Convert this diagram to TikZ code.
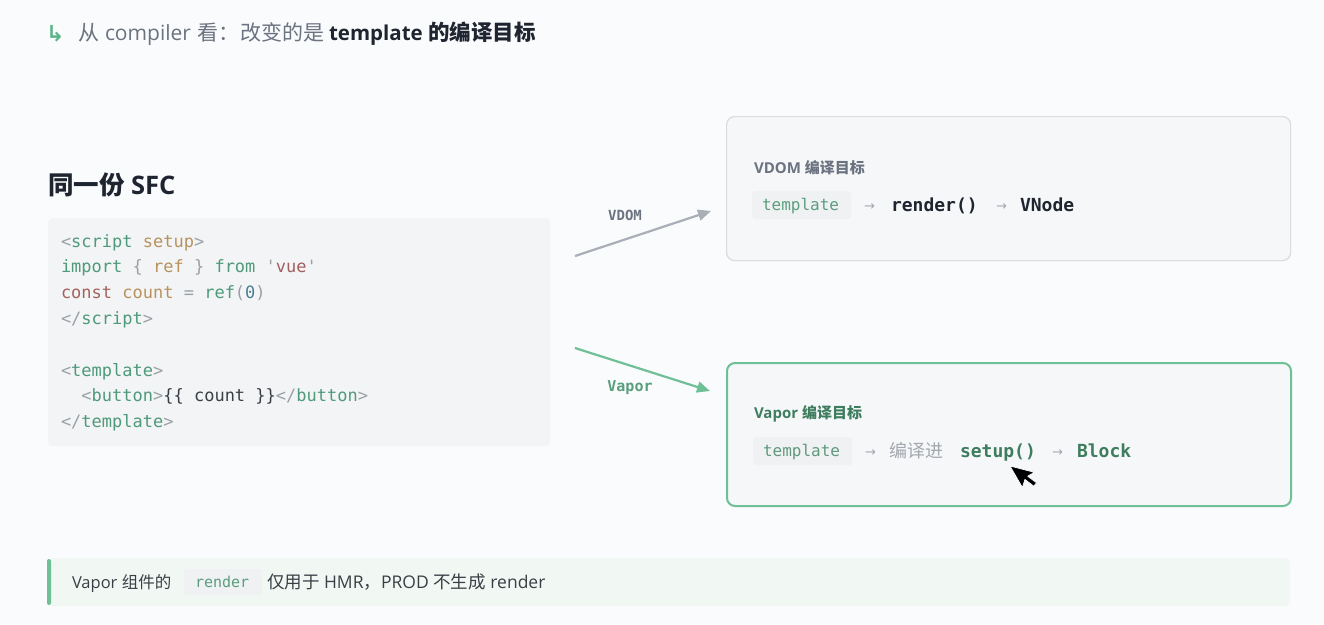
\documentclass[tikz,border=0pt]{standalone}
\usepackage{fontspec}
\setmainfont{Open Sans}
\newfontfamily\cjk{Noto Sans CJK SC}
\setmonofont{DejaVu Sans Mono}
\newfontfamily\dvs{DejaVu Sans}
\usetikzlibrary{arrows.meta}
\definecolor{bg}{HTML}{FAFBFC}
\definecolor{grn}{HTML}{5DB488}
\definecolor{grnline}{HTML}{6FBF97}
\definecolor{grndark}{HTML}{3E7D5E}
\definecolor{grntext}{HTML}{5A9E7E}
\definecolor{txtgray}{HTML}{6B7280}
\definecolor{txtlight}{HTML}{A3A8AE}
\definecolor{txtdark}{HTML}{1F2530}
\definecolor{codebg}{HTML}{F3F4F5}
\definecolor{chipbg}{HTML}{EFF1F2}
\definecolor{boxbg}{HTML}{F6F7F9}
\definecolor{boxline}{HTML}{D8DBDF}
\definecolor{arrgray}{HTML}{A9AFB6}
\definecolor{calloutbg}{HTML}{F1F8F4}
\definecolor{cpunct}{HTML}{9AA0A6}
\definecolor{ctag}{HTML}{4E9A7A}
\definecolor{cattr}{HTML}{B8925E}
\definecolor{cstr}{HTML}{A25F5F}
\definecolor{ckw}{HTML}{A3625C}
\definecolor{cnum}{HTML}{4B7E92}
\definecolor{cplain}{HTML}{3A3F45}
\newcommand{\cpn}[1]{\textcolor{cpunct}{#1}}
\newcommand{\ctg}[1]{\textcolor{ctag}{#1}}
\newcommand{\cat}[1]{\textcolor{cattr}{#1}}
\newcommand{\zh}[1]{{\cjk #1}}
\tikzset{
  txt/.style={anchor=base west, inner sep=0pt, outer sep=0pt},
  hdrtxt/.style={txt, font=\fontsize{21}{24}\selectfont, text=txtgray},
  hdrbold/.style={txt, font=\bfseries\fontsize{20.5}{24}\selectfont, text=txtdark},
  codeline/.style={txt, font=\ttfamily\fontsize{17}{20}\selectfont},
  chip/.style={fill=chipbg, rounded corners=3pt, inner sep=0pt},
  chiptxt/.style={txt, font=\ttfamily\fontsize{16}{19}\selectfont},
  boldcode/.style={txt, font=\ttfamily\bfseries\fontsize{18}{21}\selectfont},
  smallarr/.style={txt, font=\dvs\fontsize{13}{16}\selectfont, text=txtlight},
  boxtitle/.style={txt, font=\bfseries\fontsize{15}{18}\selectfont},
  flowarrow/.style={line width=2.2pt, -{Triangle[length=13pt,width=11pt]}},
}
\begin{document}
\begin{tikzpicture}[x=1pt,y=-1pt]
\useasboundingbox (0,0) rectangle (1324,624);
\fill[bg] (0,0) rectangle (1324,624);

% header
\node[txt, font=\dvs\bfseries\fontsize{22}{24}\selectfont, text=grn] (hdrarrow) at (46,41) {↳};
\node[hdrtxt, font=\cjk\fontsize{21}{24}\selectfont] (h1) at (78,40) {从};
\node[hdrtxt] (h2) at (105,40) {compiler};
\node[hdrtxt, font=\cjk\fontsize{21}{24}\selectfont] (h3) at (197,40) {看：};
\node[hdrtxt, font=\cjk\fontsize{21}{24}\selectfont] (h4) at (240,40) {改变的是};
\node[hdrbold] (h5) at (329,40) {template};
\node[hdrbold, font=\cjk\bfseries\fontsize{21.5}{24}\selectfont] (h6) at (428,40) {的编译目标};

% SFC title
\node[txt, font=\bfseries\fontsize{25.5}{28}\selectfont, text=txtdark] (sfctitle) at (48,194) {\zh{同一份} SFC};

% code box
\node[fill=codebg, rounded corners=4pt, minimum width=502pt, minimum height=228pt, inner sep=0pt, anchor=north west] (codebox) at (48,218) {};
\node[codeline] (c1) at (61,247.0) {\cpn{<}\ctg{script} \cat{setup}\cpn{>}};
\node[codeline] (c2) at (61,272.8) {\ctg{import} \cpn{\{} \cat{ref} \cpn{\}} \ctg{from} \cpn{'}\textcolor{cstr}{vue}\cpn{'}};
\node[codeline] (c3) at (61,298.6) {\textcolor{ckw}{const} \cat{count} \cpn{=} \ctg{ref}\cpn{(}\textcolor{cnum}{0}\cpn{)}};
\node[codeline] (c4) at (61,324.4) {\cpn{</}\ctg{script}\cpn{>}};
\node[codeline] (c5) at (61,376.0) {\cpn{<}\ctg{template}\cpn{>}};
\node[codeline] (c6) at (61,401.8) {\phantom{xx}\cpn{<}\ctg{button}\cpn{>}\textcolor{cplain}{\{\{ count \}\}}\cpn{</}\ctg{button}\cpn{>}};
\node[codeline] (c7) at (61,427.6) {\cpn{</}\ctg{template}\cpn{>}};

% VDOM box
\node[draw=boxline, line width=1.2pt, fill=boxbg, rounded corners=8pt, minimum width=564pt, minimum height=144pt, inner sep=0pt, anchor=north west] (vdombox) at (726,116) {};
\node[boxtitle, text=txtgray] (vdomtitle) at (754,173) {VDOM \zh{编译目标}};
\node[chip, minimum width=99pt, minimum height=28pt, anchor=north west] (vchip) at (752,191) {};
\node[chiptxt, text=grntext] (vchiptxt) at (762,210) {template};
\node[smallarr] (va1) at (864,210) {→};
\node[boldcode, text=txtdark] (vrender) at (891,211) {render()};
\node[smallarr] (va2) at (996,210) {→};
\node[boldcode, text=txtdark] (vnode) at (1020,211) {VNode};

% Vapor box
\node[draw=grnline, line width=2pt, fill=boxbg, rounded corners=8pt, minimum width=564pt, minimum height=143pt, inner sep=0pt, anchor=north west] (vaporbox) at (726,362) {};
\node[boxtitle, text=grndark] (vaportitle) at (754,418) {Vapor \zh{编译目标}};
\node[chip, minimum width=99pt, minimum height=28pt, anchor=north west] (pchip) at (753,437) {};
\node[chiptxt, text=grntext!80!gray] (pchiptxt) at (763,456) {template};
\node[smallarr] (pa1) at (865,456) {→};
\node[txt, font=\cjk\fontsize{18}{21}\selectfont, text=txtlight] (pcomp) at (889,457) {编译进};
\node[boldcode, text=grndark] (psetup) at (960,457) {setup()};
\node[smallarr] (pa2) at (1052,456) {→};
\node[boldcode, text=grndark] (pblock) at (1077,457) {Block};

% connectors
\coordinate (vdomstart) at (575,256);
\coordinate (vdomend) at (711,211);
\draw[flowarrow, arrgray] (vdomstart) -- (vdomend);
\node[font=\ttfamily\bfseries\fontsize{14}{17}\selectfont, text=txtgray] (vdomlbl) at (625,215) {VDOM};
\coordinate (vaporstart) at (575,348);
\coordinate (vaporend) at (710,391);
\draw[flowarrow, grnline] (vaporstart) -- (vaporend);
\node[font=\ttfamily\bfseries\fontsize{15}{18}\selectfont, text=grntext] (vaporlbl) at (630,388) {Vapor};

% cursor
\begin{scope}[shift={(1010,466)}, rotate=30, scale=1.55]
\filldraw[fill=black, draw=white, line width=0.7pt, line join=round]
  (0,0) -- (0,16) -- (4,12.3) -- (6.8,19) -- (9.4,17.9) -- (6.6,11.4) -- (11.6,11.4) -- cycle;
\end{scope}

% callout
\node[fill=calloutbg, rounded corners=6pt, minimum width=1243pt, minimum height=48pt, inner sep=0pt, anchor=north west] (callout) at (47,558) {};
\fill[grnline, rounded corners=2pt] (47,559) rectangle (51,605);
\node[txt, font=\fontsize{16.5}{20}\selectfont, text=cplain] (ctext1) at (72,588) {Vapor \zh{组件的}};
\node[chip, minimum width=78pt, minimum height=26pt, anchor=north west] (cchip) at (184,569) {};
\node[txt, font=\ttfamily\fontsize{15}{18}\selectfont, text=grntext] (cchiptxt) at (195,587) {render};
\node[txt, font=\fontsize{17.5}{20}\selectfont, text=cplain] (ctext2) at (267,588) {\zh{仅用于} HMR\zh{，}PROD \zh{不生成} render};
\end{tikzpicture}
\end{document}
